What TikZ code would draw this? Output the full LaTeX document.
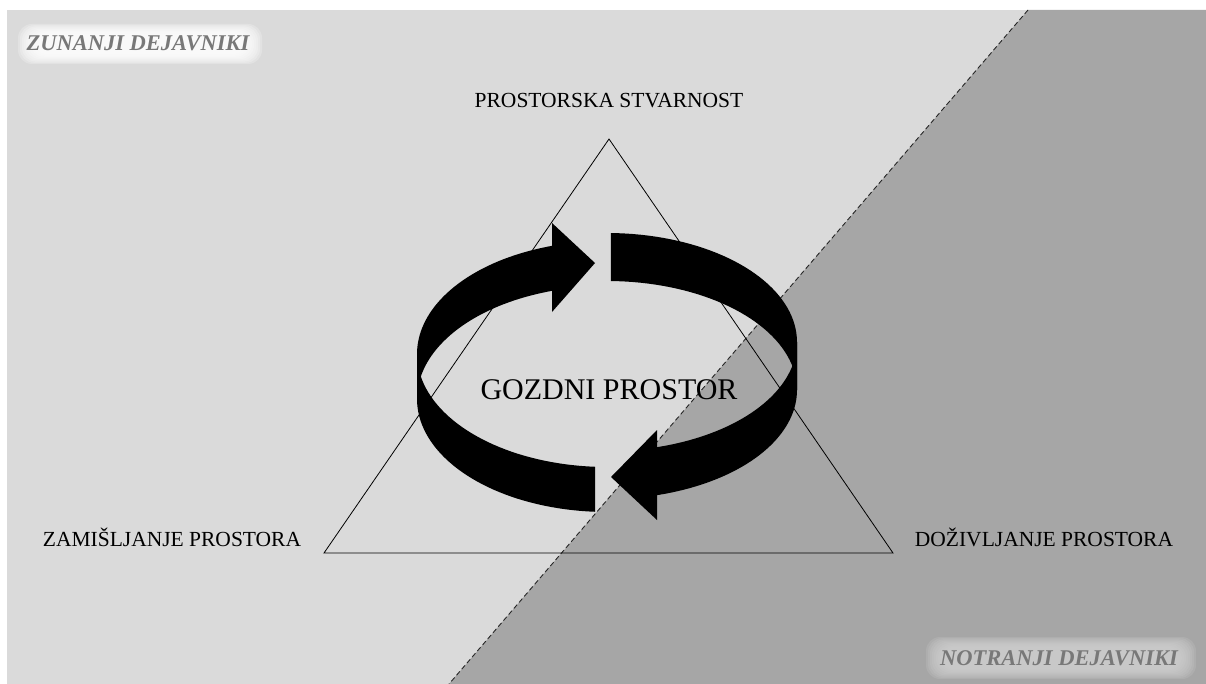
\documentclass[tikz,border=0pt]{standalone}
\usepackage{fontspec}
\setmainfont{Liberation Serif}
\definecolor{lightbg}{RGB}{218,218,218}
\definecolor{darkbg}{RGB}{166,166,166}
\definecolor{labgray}{RGB}{120,120,120}
\definecolor{glowdark}{RGB}{208,208,208}
\begin{document}
\begin{tikzpicture}[x=1pt,y=-1pt,
  lbl/.style={inner sep=0pt, font=\fontsize{21.5}{25}\selectfont},
  corner/.style={inner sep=0pt, text=labgray, font=\fontsize{22.5}{26}\selectfont\bfseries\itshape},
  band/.style={fill=black}]
\useasboundingbox (0,0) rectangle (1206,684);
% background
\fill[lightbg] (7,10) rectangle (1206,684);
\coordinate (dtop) at (1028,10);
\coordinate (dbot) at (449,684);
\fill[darkbg] (dtop) -- (1206,10) -- (1206,684) -- (dbot) -- cycle;
\draw[black!85, line width=0.9pt, dash pattern=on 5pt off 3pt] (dtop) -- (dbot);
% glows
\foreach \k in {0,2,...,16}
  \fill[white, fill opacity=0.22, rounded corners=14pt] ({18+\k},{24+0.6*\k}) rectangle ({262-\k},{64-0.6*\k});
\foreach \k in {0,2,...,16}
  \fill[glowdark, fill opacity=0.2, rounded corners=14pt] ({926+\k},{637+0.6*\k}) rectangle ({1196-\k},{679-0.6*\k});
\node[corner] (zun) at (138,43) {ZUNANJI DEJAVNIKI};
\node[corner] (not) at (1059,658) {NOTRANJI DEJAVNIKI};
% triangle
\coordinate (ta) at (609,139);
\coordinate (tl) at (324,553);
\coordinate (tr) at (893,553);
\draw[black, line width=0.8pt] (ta) -- (tl) -- (tr) -- cycle;
% labels
\node[lbl] (ps) at (609,101) {PROSTORSKA STVARNOST};
\node[lbl] (zp) at (172,537) {ZAMIŠLJANJE PROSTORA};
\node[lbl] (dp) at (1044,537) {DOŽIVLJANJE PROSTORA};
% arrow 1 (left, going up to the top)
\fill[band] plot[domain=93.6:180,samples=40] ({607+190*cos(\x)},{354+113*sin(\x)})
  -- plot[domain=180:93.6,samples=40] ({607+190*cos(\x)},{399+113*sin(\x)}) -- cycle;
\fill[band] plot[domain=180:254,samples=40] ({607+190*cos(\x)},{354+113*sin(\x)})
  -- plot[domain=254:180,samples=40] ({607+190*cos(\x)},{399+113*sin(\x)}) -- cycle;
\coordinate (h1a) at (552,223);
\coordinate (h1t) at (595,263);
\coordinate (h1b) at (552,312);
\fill[band] (h1a) -- (h1t) -- (h1b) -- cycle;
% arrow 2 (right, going down to the front)
\fill[band] plot[domain=271.2:360,samples=40] ({607+190*cos(\x)},{342+109*sin(\x)})
  -- plot[domain=360:271.2,samples=40] ({607+190*cos(\x)},{390+109*sin(\x)}) -- cycle;
\fill[band] plot[domain=0:76,samples=40] ({607+190*cos(\x)},{342+109*sin(\x)})
  -- plot[domain=76:0,samples=40] ({607+190*cos(\x)},{390+109*sin(\x)}) -- cycle;
\coordinate (h2a) at (657,430);
\coordinate (h2t) at (611,477);
\coordinate (h2b) at (657,520);
\fill[band] (h2a) -- (h2t) -- (h2b) -- cycle;
% centre text
\node[inner sep=0pt, font=\fontsize{30}{35}\selectfont] (gp) at (609,390) {GOZDNI PROSTOR};
\end{tikzpicture}
\end{document}
